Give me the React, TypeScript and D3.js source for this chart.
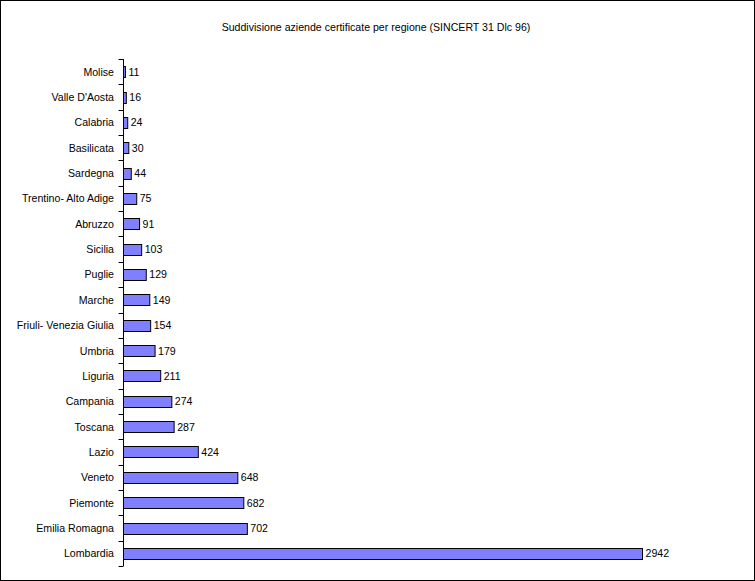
import { useEffect, useRef } from 'react';
import * as d3 from 'd3';

// regions from top to bottom, with the certified company counts
const regions = [
  'Molise', "Valle D'Aosta", 'Calabria', 'Basilicata', 'Sardegna', 'Trentino- Alto Adige',
  'Abruzzo', 'Sicilia', 'Puglie', 'Marche', 'Friuli- Venezia Giulia', 'Umbria', 'Liguria',
  'Campania', 'Toscana', 'Lazio', 'Veneto', 'Piemonte', 'Emilia Romagna', 'Lombardia',
];
const counts = [11, 16, 24, 30, 44, 75, 91, 103, 129, 149, 154, 179, 211, 274, 287, 424, 648, 682, 702, 2942];
const title = 'Suddivisione aziende certificate per regione (SINCERT 31 Dlc 96)';

const App = () => {
  const chartRef = useRef<SVGSVGElement>(null);

  useEffect(() => {
    if (!chartRef.current) return;
    d3.select(chartRef.current).selectAll('*').remove();
    const width = 755;
    const height = 581;
    const svg = d3.select(chartRef.current)
      .attr('width', width)
      .attr('height', height)
      .style('font-family', '"Liberation Sans", Arial, sans-serif');

    // outer frame
    svg.append('rect')
      .attr('x', 0.5).attr('y', 0.5)
      .attr('width', width - 1).attr('height', height - 1)
      .attr('fill', 'white').attr('stroke', 'black');

    svg.append('text')
      .attr('x', 376).attr('y', 31)
      .attr('text-anchor', 'middle')
      .style('font-size', '10.6px')
      .text(title);

    const left = 123.5;
    const x = d3.scaleLinear().domain([0, 3000]).range([left, left + 519 * 3000 / 2942]);
    const y = d3.scaleBand<string>().domain(regions).range([59, 566]).paddingInner(0.57).paddingOuter(0.285);
    const bandStep = (566 - 59) / regions.length;

    // category axis with ticks on the left, between categories
    svg.append('line')
      .attr('x1', left).attr('x2', left).attr('y1', 59).attr('y2', 566)
      .attr('stroke', 'black');
    svg.selectAll('line.tick')
      .data(d3.range(regions.length + 1))
      .enter()
      .append('line')
      .attr('class', 'tick')
      .attr('x1', left - 5).attr('x2', left)
      .attr('y1', i => Math.round(59 + i * bandStep) + 0.5)
      .attr('y2', i => Math.round(59 + i * bandStep) + 0.5)
      .attr('stroke', 'black');

    const data = regions.map((r, i) => ({ region: r, count: counts[i] }));

    svg.selectAll('rect.bar')
      .data(data)
      .enter()
      .append('rect')
      .attr('class', 'bar')
      .attr('x', x(0))
      .attr('y', d => Math.round(y(d.region)!) + 0.5)
      .attr('width', d => x(d.count) - x(0))
      .attr('height', Math.round(y.bandwidth()))
      .attr('fill', '#8080FF')
      .attr('stroke', 'black');

    svg.selectAll('text.value')
      .data(data)
      .enter()
      .append('text')
      .attr('class', 'value')
      .attr('x', d => x(d.count) + 3)
      .attr('y', d => y(d.region)! + y.bandwidth() / 2 + 4)
      .style('font-size', '10.6px')
      .text(d => d.count);

    svg.selectAll('text.label')
      .data(data)
      .enter()
      .append('text')
      .attr('class', 'label')
      .attr('x', 114)
      .attr('y', d => y(d.region)! + y.bandwidth() / 2 + 4)
      .attr('text-anchor', 'end')
      .style('font-size', '10.6px')
      .text(d => d.region);
  }, []);

  return (
    <div style={{ position: 'fixed', left: 0, top: 0 }}>
      <svg ref={chartRef} style={{ display: 'block' }} />
    </div>
  );
};

export default App;
